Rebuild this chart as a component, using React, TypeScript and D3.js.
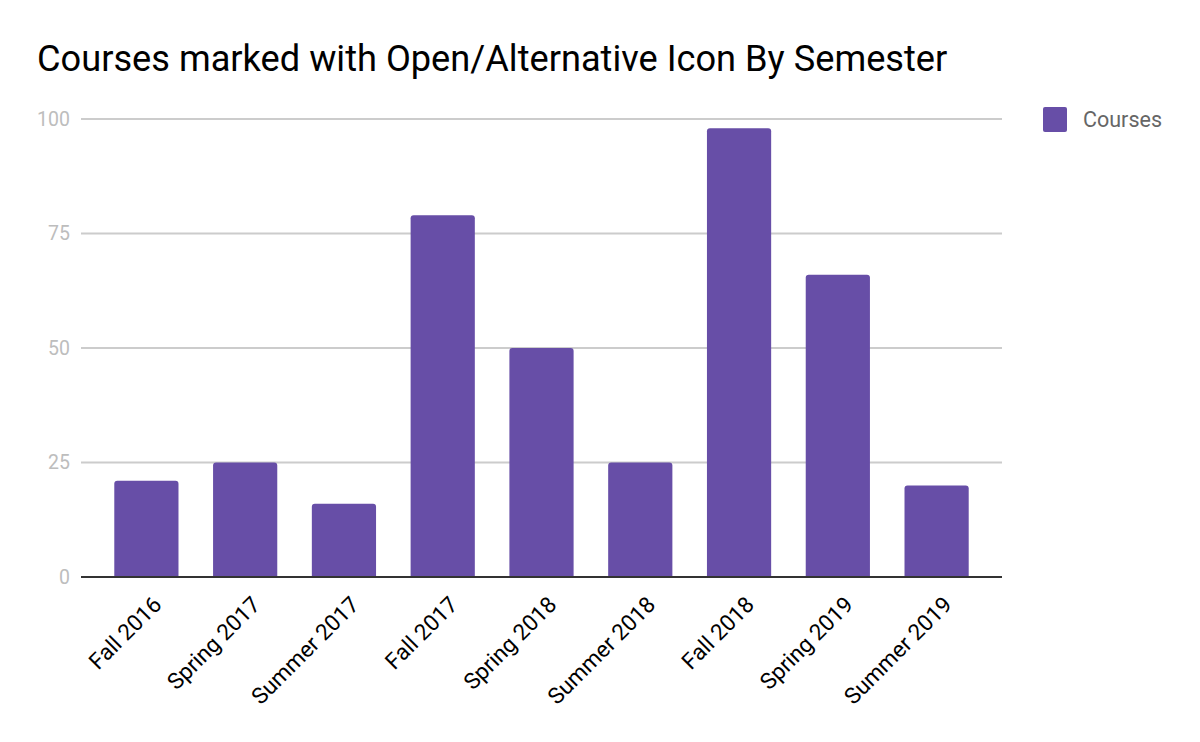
import React from "react";
import * as d3 from "d3";

const categories = ["Fall 2016","Spring 2017","Summer 2017","Fall 2017","Spring 2018","Summer 2018","Fall 2018","Spring 2019","Summer 2019"];
const courses = [21, 25, 16, 79, 50, 25, 98, 66, 20];
const yTicks = [0, 25, 50, 75, 100];
const seriesName = "Courses";
const title = "Courses marked with Open/Alternative Icon By Semester";

const W = 1200, H = 742;
const COLOR = "#674ea7";
const FONT = "Roboto, sans-serif";

export default function App() {
  const x = d3.scaleBand<string>().domain(categories).range([97, 986]).paddingInner(0.35).paddingOuter(0.175);
  const y = d3.scaleLinear().domain([0, 100]).range([577, 119]);
  const r = 3;
  const barPath = (cx: number, w: number, top: number, bottom: number) => {
    const rr = Math.min(r, (bottom - top) / 2);
    return `M${cx},${bottom}V${top + rr}Q${cx},${top} ${cx + rr},${top}H${cx + w - rr}Q${cx + w},${top} ${cx + w},${top + rr}V${bottom}Z`;
  };
  return (
    <svg width={W} height={H} style={{ position: "absolute", left: 0, top: 0 }} fontFamily={FONT}>
      <rect width={W} height={H} fill="#fff" />
      <text x={37} y={71} fontSize={36.2} fill="#000">{title}</text>
      {yTicks.map(t => (
        <g key={t}>
          {t !== 0 && <line x1={81} x2={1002} y1={y(t)} y2={y(t)} stroke="#cccccc" strokeWidth={2} />}
          <text x={70} y={y(t)} dy="0.35em" textAnchor="end" fontSize={19.5} fill="#bdbdbd">{t}</text>
        </g>
      ))}
      {categories.map((c, i) => (
        <path key={c} d={barPath(x(c)!, x.bandwidth(), y(courses[i]), y(0))} fill={COLOR} />
      ))}
      <line x1={81} x2={1002} y1={y(0)} y2={y(0)} stroke="#333" strokeWidth={2} />
      {categories.map(c => {
        const cx = x(c)! + x.bandwidth() / 2 + 16.5;
        const cy = 606;
        return (
          <text key={c} x={cx} y={cy} textAnchor="end" fontSize={22.5} fill="#000" transform={`rotate(-45 ${cx} ${cy})`}>{c}</text>
        );
      })}
      <rect x={1043} y={107} width={24} height={25} rx={2} fill={COLOR} />
      <text x={1083} y={119.5} dy="0.35em" fontSize={21.5} fill="#666">{seriesName}</text>
    </svg>
  );
}
